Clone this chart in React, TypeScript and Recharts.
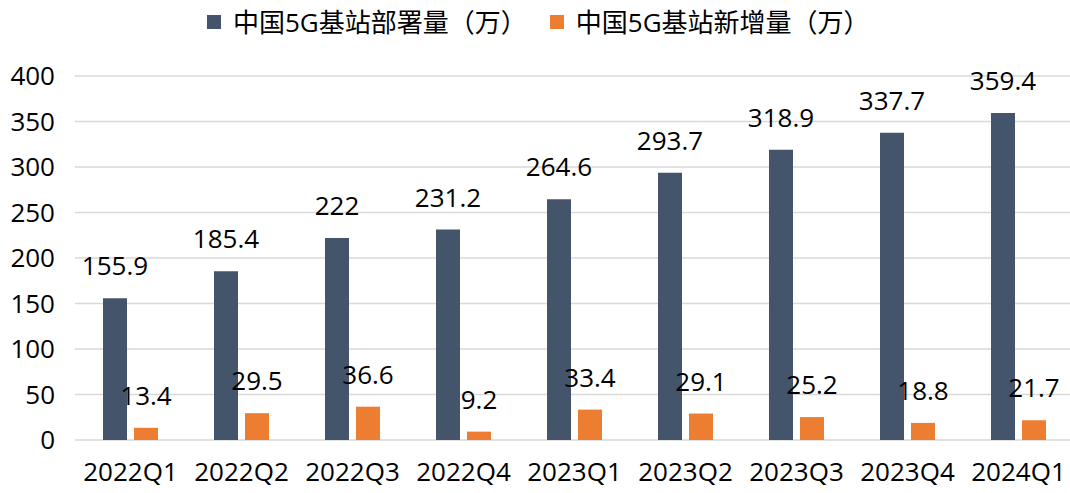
import React from "react";
import {
  Bar,
  BarChart,
  CartesianGrid,
  LabelList,
  Legend,
  XAxis,
  YAxis,
} from "recharts";

const quarters = [
  "2022Q1",
  "2022Q2",
  "2022Q3",
  "2022Q4",
  "2023Q1",
  "2023Q2",
  "2023Q3",
  "2023Q4",
  "2024Q1",
];
const deployed = [155.9, 185.4, 222, 231.2, 264.6, 293.7, 318.9, 337.7, 359.4];
const added = [13.4, 29.5, 36.6, 9.2, 33.4, 29.1, 25.2, 18.8, 21.7];
const yTicks = [0, 50, 100, 150, 200, 250, 300, 350, 400];

const DEPLOYED_NAME = "中国5G基站部署量（万）";
const ADDED_NAME = "中国5G基站新增量（万）";
const DEPLOYED_COLOR = "#44546A";
const ADDED_COLOR = "#ED7D31";

const FONT = "'Open Sans', 'Noto Sans CJK SC', sans-serif";

const data = quarters.map((q, i) => ({
  quarter: q,
  deployed: deployed[i],
  added: added[i],
}));

const legendItems = [
  { name: DEPLOYED_NAME, color: DEPLOYED_COLOR },
  { name: ADDED_NAME, color: ADDED_COLOR },
];

// fixed order legend, recharts sorts the payload otherwise
const renderLegend = () => (
  <div
    style={{
      display: "flex",
      alignItems: "center",
      paddingLeft: 207,
      fontFamily: FONT,
      fontSize: 26,
      lineHeight: "34px",
      color: "#000",
    }}
  >
    {legendItems.map((item, i) => (
      <div
        key={i}
        style={{
          display: "flex",
          alignItems: "center",
          marginLeft: i === 0 ? 0 : 23,
        }}
      >
        <span
          style={{
            display: "inline-block",
            width: 14,
            height: 14,
            background: item.color,
            marginRight: 12,
          }}
        />
        <span>{item.name}</span>
      </div>
    ))}
  </div>
);

const App = () => {
  return (
    <div
      style={{
        position: "absolute",
        left: 0,
        top: 0,
        width: 1070,
        height: 493,
        overflow: "hidden",
        background: "#fff",
      }}
    >
      <BarChart
        width={1074}
        height={493}
        data={data}
        margin={{ top: 42, right: 0, left: 0, bottom: 0 }}
        barSize={24}
        barGap={7}
      >
        <CartesianGrid vertical={false} stroke="#D9D9D9" strokeWidth={1.5} />
        <XAxis
          dataKey="quarter"
          axisLine={false}
          tickLine={false}
          tickSize={0}
          tickMargin={23}
          height={53}
          interval={0}
          tick={{ fontSize: 26, fill: "#000", fontFamily: FONT }}
        />
        <YAxis
          domain={[0, 400]}
          ticks={yTicks}
          axisLine={false}
          tickLine={false}
          tickSize={0}
          tickMargin={20}
          width={75}
          tick={{ fontSize: 26, fill: "#000", fontFamily: FONT }}
        />
        <Legend
          verticalAlign="top"
          content={renderLegend}
          wrapperStyle={{ top: 5, left: 0, width: 1070 }}
        />
        <Bar
          dataKey="deployed"
          name={DEPLOYED_NAME}
          fill={DEPLOYED_COLOR}
          isAnimationActive={false}
        >
          <LabelList
            dataKey="deployed"
            position="top"
            offset={23}
            fill="#000"
            fontSize={26}
            fontFamily={FONT}
          />
        </Bar>
        <Bar
          dataKey="added"
          name={ADDED_NAME}
          fill={ADDED_COLOR}
          isAnimationActive={false}
        >
          <LabelList
            dataKey="added"
            position="top"
            offset={23}
            fill="#000"
            fontSize={26}
            fontFamily={FONT}
          />
        </Bar>
      </BarChart>
    </div>
  );
};

export default App;
